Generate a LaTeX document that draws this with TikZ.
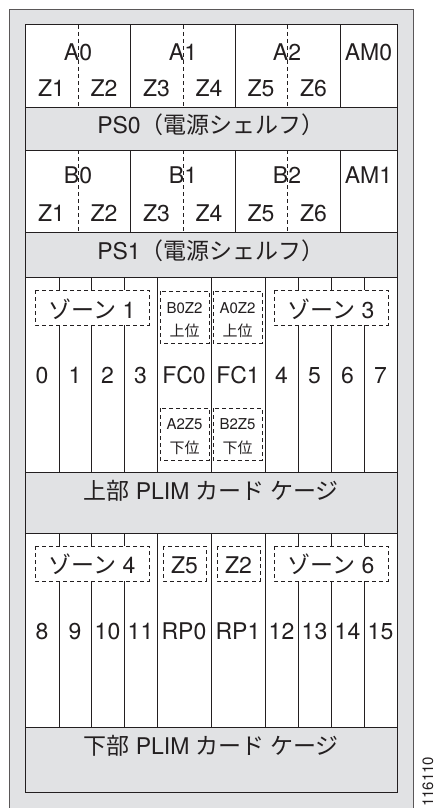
\documentclass[tikz,border=0pt]{standalone}
\usepackage{fontspec}
\setmainfont{TeX Gyre Heros}
\newfontfamily\jp{Noto Sans CJK JP}
\newcommand\J[1]{{\jp #1}}
\definecolor{bandgray}{HTML}{E1E2E4}
\definecolor{ink}{HTML}{231F20}
\begin{document}
\begin{tikzpicture}[x=1pt,y=-1pt,
  line/.style={draw=ink, line width=1pt},
  dline/.style={draw=ink, line width=1pt, dash pattern=on 4pt off 3pt},
  dbox/.style={draw=ink, line width=1pt, dash pattern=on 4pt off 3pt, fill=white},
  lbl/.style={inner sep=0pt, anchor=base, text=ink, font=\fontsize{23}{23}\selectfont},
  sml/.style={inner sep=0pt, anchor=base, text=ink, font=\fontsize{15}{15}\selectfont}]
\useasboundingbox (0,0) rectangle (435,808);
% outer chassis
\begin{scope}
\clip (0,0) rectangle (435,808);
\draw[draw=ink!75, line width=0.9pt, fill=bandgray] (9,9) rectangle (413,840);
\end{scope}
\draw[line, fill=white] (25,25) rectangle (397,792);
% gray bands
\draw[line, fill=bandgray] (25,107) rectangle (397,150);
\draw[line, fill=bandgray] (25,232) rectangle (397,277);
\draw[line, fill=bandgray] (25,472) rectangle (397,533);
\draw[line, fill=bandgray] (25,727) rectangle (397,792);
% shelf dividers
\foreach \x in {130,235,340} {
  \draw[line] (\x,25) -- (\x,107);
  \draw[line] (\x,150) -- (\x,232);
}
\foreach \x in {78,183,287} {
  \draw[dline] (\x,25) -- (\x,107);
  \draw[dline] (\x,150) -- (\x,232);
}
% slot dividers
\foreach \x in {59,91,124,157,211,265,298,331,364} {
  \draw[line] (\x,277) -- (\x,472);
  \draw[line] (\x,533) -- (\x,727);
}
% dashed boxes
\draw[dbox] (35,290) rectangle (149,325);
\draw[dbox] (274,290) rectangle (388,325);
\draw[dbox] (160,291) rectangle (209,343);
\draw[dbox] (213,291) rectangle (262,343);
\draw[dbox] (160,408) rectangle (209,460);
\draw[dbox] (213,408) rectangle (262,460);
\draw[dbox] (35,546) rectangle (149,581);
\draw[dbox] (163,546) rectangle (206,581);
\draw[dbox] (217,546) rectangle (260,581);
\draw[dbox] (274,546) rectangle (388,581);
% shelf labels
\node[lbl] (a0) at (78,60) {A0};
\node[lbl] (a1) at (183,60) {A1};
\node[lbl] (a2) at (287,60) {A2};
\node[lbl] (am0) at (368.5,60) {AM0};
\node[lbl] (az1) at (51.5,96) {Z1};
\node[lbl] (az2) at (104,96) {Z2};
\node[lbl] (az3) at (156.5,96) {Z3};
\node[lbl] (az4) at (209,96) {Z4};
\node[lbl] (az5) at (261,96) {Z5};
\node[lbl] (az6) at (313.5,96) {Z6};
\node[lbl] (ps0) at (211,133) {PS0\J{（電源シェルフ）}};
\node[lbl] (b0) at (78,183) {B0};
\node[lbl] (b1) at (183,183) {B1};
\node[lbl] (b2) at (287,183) {B2};
\node[lbl] (am1) at (368.5,183) {AM1};
\node[lbl] (bz1) at (51.5,221) {Z1};
\node[lbl] (bz2) at (104,221) {Z2};
\node[lbl] (bz3) at (156.5,221) {Z3};
\node[lbl] (bz4) at (209,221) {Z4};
\node[lbl] (bz5) at (261,221) {Z5};
\node[lbl] (bz6) at (313.5,221) {Z6};
\node[lbl] (ps1) at (211,259) {PS1\J{（電源シェルフ）}};
% upper cage
\node[lbl] (zone1) at (92,318) {\J{ゾーン} 1};
\node[lbl] (zone3) at (331,318) {\J{ゾーン} 3};
\node[sml] (b0z2) at (184.5,313) {B0Z2};
\node[sml] (b0z2u) at (184.5,336) {\J{上位}};
\node[sml] (a0z2) at (237.5,313) {A0Z2};
\node[sml] (a0z2u) at (237.5,336) {\J{上位}};
\node[sml] (a2z5) at (184.5,429) {A2Z5};
\node[sml] (a2z5l) at (184.5,453) {\J{下位}};
\node[sml] (b2z5) at (237.5,429) {B2Z5};
\node[sml] (b2z5l) at (237.5,453) {\J{下位}};
\node[lbl] (s0) at (42,383) {0};
\node[lbl] (s1) at (75,383) {1};
\node[lbl] (s2) at (107.5,383) {2};
\node[lbl] (s3) at (140.5,383) {3};
\node[lbl] (fc0) at (184,383) {FC0};
\node[lbl] (fc1) at (238,383) {FC1};
\node[lbl] (s4) at (281.5,383) {4};
\node[lbl] (s5) at (314.5,383) {5};
\node[lbl] (s6) at (347.5,383) {6};
\node[lbl] (s7) at (380.5,383) {7};
\node[lbl] (upper) at (211,499) {\J{上部} PLIM \J{カード ケージ}};
% lower cage
\node[lbl] (zone4) at (92,573) {\J{ゾーン} 4};
\node[lbl] (zone6) at (331,573) {\J{ゾーン} 6};
\node[lbl] (lz5) at (184.5,573) {Z5};
\node[lbl] (lz2) at (238.5,573) {Z2};
\node[lbl] (s8) at (42,639) {8};
\node[lbl] (s9) at (75,639) {9};
\node[lbl] (s10) at (107.5,639) {10};
\node[lbl] (s11) at (140.5,639) {11};
\node[lbl] (rp0) at (184,639) {RP0};
\node[lbl] (rp1) at (238,639) {RP1};
\node[lbl] (s12) at (281.5,639) {12};
\node[lbl] (s13) at (314.5,639) {13};
\node[lbl] (s14) at (347.5,639) {14};
\node[lbl] (s15) at (380.5,639) {15};
\node[lbl] (lower) at (211,754) {\J{下部} PLIM \J{カード ケージ}};
% figure number
\node[sml, anchor=base west, rotate=90, font=\fontsize{15}{15}\selectfont] (fig) at (433,807) {116110};
\end{tikzpicture}
\end{document}
